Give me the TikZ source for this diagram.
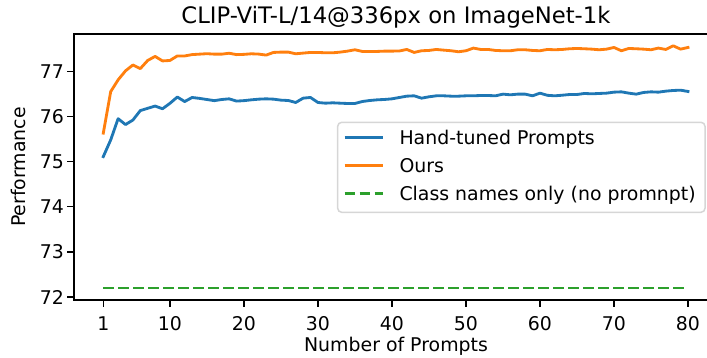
\documentclass[tikz,border=0pt]{standalone}
\usepackage{fontspec}
\setmainfont{DejaVu Sans}
\definecolor{mplblue}{HTML}{1F77B4}
\definecolor{mplorange}{HTML}{FF7F0E}
\definecolor{mplgreen}{HTML}{2CA02C}
\definecolor{legedge}{rgb}{0.84,0.84,0.84}
\tikzset{
  spine/.style={line width=1.5pt, line cap=rect, black},
  tickmark/.style={line width=1.5pt, black},
  ticklabel/.style={inner sep=0pt, font=\fontsize{18.9}{22}\selectfont},
  axlabel/.style={inner sep=0pt, font=\fontsize{18.9}{22}\selectfont},
  titlelabel/.style={inner sep=0pt, font=\fontsize{22.7}{27}\selectfont},
  curve/.style={line width=2.83pt, line join=round, line cap=rect},
  blueline/.style={curve, mplblue},
  orangeline/.style={curve, mplorange},
  greenline/.style={line width=2.83pt, line cap=butt, mplgreen, dash pattern=on 10.5pt off 4.5pt},
  legendbox/.style={draw=legedge, fill=white, line width=1.5pt, rounded corners=4pt},
  legtext/.style={inner sep=0pt, anchor=base west, font=\fontsize{18.9}{22}\selectfont},
}
\begin{document}
\begin{tikzpicture}[x=1pt,y=1pt]
\useasboundingbox (0,0) rectangle (707,357);
% data region
\begin{scope}[x=7.401pt, y=45.14pt, shift={(95.9pt,-3190.08pt)}]
\draw[blueline] plot coordinates {(1,75.11) (2,75.48) (3,75.95) (4,75.82) (5,75.92) (6,76.13) (7,76.18) (8,76.23) (9,76.17) (10,76.29)
 (11,76.43) (12,76.33) (13,76.42) (14,76.40) (15,76.375) (16,76.35) (17,76.375) (18,76.39) (19,76.34) (20,76.35)
 (21,76.368) (22,76.383) (23,76.39) (24,76.383) (25,76.361) (26,76.353) (27,76.309) (28,76.405) (29,76.42) (30,76.309)
 (31,76.294) (32,76.302) (33,76.294) (34,76.287) (35,76.287) (36,76.331) (37,76.353) (38,76.368) (39,76.376) (40,76.39)
 (41,76.42) (42,76.449) (43,76.457) (44,76.405) (45,76.435) (46,76.457) (47,76.457) (48,76.449) (49,76.449) (50,76.457)
 (51,76.457) (52,76.464) (53,76.464) (54,76.457) (55,76.494) (56,76.479) (57,76.494) (58,76.494) (59,76.457) (60,76.516)
 (61,76.468) (62,76.457) (63,76.47) (64,76.486) (65,76.486) (66,76.509) (67,76.501) (68,76.509) (69,76.516) (70,76.538)
 (71,76.545) (72,76.516) (73,76.494) (74,76.531) (75,76.545) (76,76.538) (77,76.56) (78,76.575) (79,76.582) (80,76.553)};
\draw[orangeline] plot coordinates {(1,75.63) (2,76.55) (3,76.81) (4,77.01) (5,77.14) (6,77.06) (7,77.24) (8,77.33) (9,77.23) (10,77.24)
 (11,77.34) (12,77.34) (13,77.37) (14,77.38) (15,77.39) (16,77.38) (17,77.38) (18,77.40) (19,77.37) (20,77.375)
 (21,77.388) (22,77.381) (23,77.359) (24,77.418) (25,77.425) (26,77.425) (27,77.388) (28,77.403) (29,77.418) (30,77.418)
 (31,77.41) (32,77.41) (33,77.425) (34,77.447) (35,77.477) (36,77.44) (37,77.44) (38,77.44) (39,77.447) (40,77.447)
 (41,77.45) (42,77.484) (43,77.418) (44,77.455) (45,77.462) (46,77.484) (47,77.469) (48,77.455) (49,77.433) (50,77.455)
 (51,77.514) (52,77.484) (53,77.484) (54,77.462) (55,77.455) (56,77.455) (57,77.477) (58,77.477) (59,77.462) (60,77.455)
 (61,77.484) (62,77.477) (63,77.484) (64,77.499) (65,77.506) (66,77.499) (67,77.491) (68,77.477) (69,77.491) (70,77.528)
 (71,77.455) (72,77.506) (73,77.499) (74,77.491) (75,77.477) (76,77.514) (77,77.484) (78,77.565) (79,77.491) (80,77.528)};
\coordinate (gstart) at (1,72.2);
\coordinate (gend) at (80,72.2);
\draw[greenline] (gstart) -- (gend);
% ticks
\foreach \v in {72,73,74,75,76,77} {
  \coordinate (yt\v) at (-2.95,\v);
  \draw[tickmark] (yt\v) -- ++(-6.6pt,0);
  \node[ticklabel, anchor=east] (ytl\v) at ([xshift=-10pt]yt\v) {\v};
}
\foreach \n in {1,10,20,30,40,50,60,70,80} {
  \coordinate (xt\n) at (\n,71.932);
  \draw[tickmark] (xt\n) -- ++(0,-6.6pt);
  \node[ticklabel, anchor=north] (xtl\n) at ([yshift=-16.7pt]xt\n) {\n};
}
\end{scope}
% spines
\coordinate (bl) at (74,57);
\coordinate (tl) at (74,323.2);
\coordinate (br) at (707.5,57);
\coordinate (tr) at (707.5,323.2);
\draw[spine] (tr) -- (tl) -- (bl) -- (br);
% labels
\node[titlelabel, anchor=base] (title) at (396,333.7) {CLIP-ViT-L/14@336px on ImageNet-1k};
\node[axlabel, anchor=base] (xlabel) at (396,5.3) {Number of Prompts};
\node[axlabel, anchor=base, rotate=90] (ylabel) at (25,190.1) {Performance};
% legend
\draw[legendbox] (337.7,144.7) rectangle (705,234.7);
\coordinate (l1a) at (344.5,219.3); \coordinate (l1b) at (382.5,219.3);
\coordinate (l2a) at (344.5,191.3); \coordinate (l2b) at (382.5,191.3);
\coordinate (l3a) at (344.5,163.1); \coordinate (l3b) at (382.5,163.1);
\draw[blueline, line cap=butt] (l1a) -- (l1b);
\draw[orangeline, line cap=butt] (l2a) -- (l2b);
\draw[greenline] (l3a) -- (l3b);
\node[legtext] (leg1) at (399.3,212.7) {Hand-tuned Prompts};
\node[legtext] (leg2) at (399.3,184.7) {Ours};
\node[legtext] (leg3) at (399.3,156.5) {Class names only (no promnpt)};
\end{tikzpicture}
\end{document}
